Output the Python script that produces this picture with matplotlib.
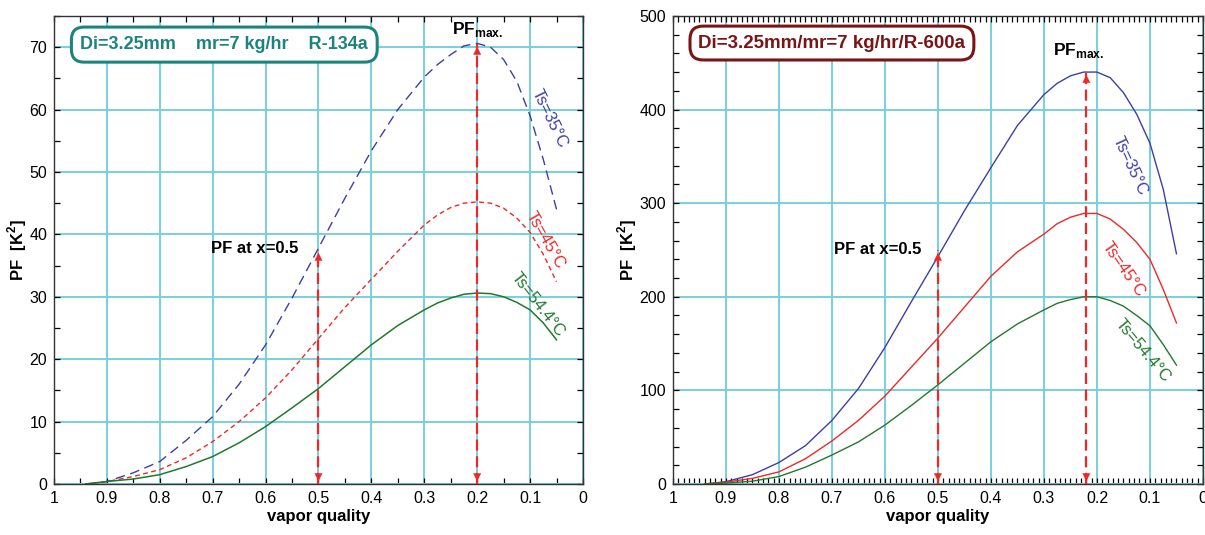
#!/usr/bin/env python3
# -*- coding: UTF-8 -*-
import matplotlib
import matplotlib.pyplot as plt
from matplotlib.ticker import MultipleLocator

matplotlib.use('Agg')
plt.rcParams['font.family'] = ['Liberation Sans', 'DejaVu Sans']
plt.rcParams['mathtext.fontset'] = 'custom'
plt.rcParams['mathtext.rm'] = 'Liberation Sans'
plt.rcParams['mathtext.bf'] = 'Liberation Sans:bold'

# vapor quality points
quality = [0.94, 0.9, 0.85, 0.8, 0.75, 0.7, 0.65, 0.6, 0.55, 0.5, 0.45, 0.4,
           0.35, 0.3, 0.275, 0.25, 0.225, 0.2, 0.175, 0.15, 0.125, 0.1, 0.075, 0.05]

# R-134a  (PF in K^2)
r134a_35 = [0, 0.4, 1.8, 3.6, 7.0, 10.8, 16.0, 22.3, 29.8, 37.8, 45.8, 53.4,
            60.0, 65.2, 67.2, 68.8, 70.2, 70.6, 70.0, 68.0, 64.5, 59.0, 52.0, 44.0]
r134a_45 = [0, 0.4, 1.2, 2.3, 4.2, 6.8, 10.0, 13.8, 18.3, 23.3, 28.3, 32.8,
            37.3, 41.5, 43.1, 44.3, 45.0, 45.2, 45.0, 44.2, 42.6, 40.3, 36.8, 32.4]
r134a_544 = [0, 0.4, 0.8, 1.5, 2.8, 4.4, 6.6, 9.2, 12.2, 15.3, 18.8, 22.3,
             25.4, 27.9, 29.0, 29.8, 30.4, 30.6, 30.5, 30.0, 29.1, 27.9, 25.8, 23.1]

# R-600a
r600a_35 = [0, 2.5, 10, 23, 41, 68, 102, 146, 195, 243, 292, 338,
            383, 416, 428, 436, 440, 440, 434, 418, 395, 364, 315, 246]
r600a_45 = [0, 2, 6, 13, 27, 46, 68, 94, 125, 156, 189, 222,
            248, 267, 278, 285, 289, 289, 283, 272, 258, 240, 208, 172]
r600a_544 = [0, 1, 3, 8, 18, 31, 45, 63, 84, 106, 129, 152,
             171, 186, 193, 197, 200, 200, 196, 190, 180, 169, 149, 127]

# arrows: (x, top)
arrows_134a = [(0.5, 37.5), (0.2, 70.5)]
arrows_600a = [(0.5, 250), (0.22, 440)]

blue = '#3c3fa6'
red = '#ee2828'
green = '#21792b'
gridc = '#78d0dc'


def setup(ax, ymax, ymajor, yminor, xminor):
    ax.set_xlim(1, 0)
    ax.set_ylim(0, ymax)
    ax.xaxis.set_major_locator(MultipleLocator(0.1))
    ax.xaxis.set_minor_locator(MultipleLocator(xminor))
    ax.yaxis.set_major_locator(MultipleLocator(ymajor))
    ax.yaxis.set_minor_locator(MultipleLocator(yminor))
    ax.xaxis.set_ticks([1, 0.9, 0.8, 0.7, 0.6, 0.5, 0.4, 0.3, 0.2, 0.1, 0])
    ax.set_xticklabels(['1', '0.9', '0.8', '0.7', '0.6', '0.5', '0.4',
                        '0.3', '0.2', '0.1', '0'])
    ax.tick_params(which='both', direction='in', top=True, right=True,
                   length=4, width=0.9, labelsize=11.5, pad=5)
    ax.grid(True, which='major', color=gridc, lw=1.4)
    ax.set_axisbelow(True)
    for s in ax.spines.values():
        s.set_color('#333333')
        s.set_linewidth(1.0)
    ax.set_xlabel('vapor quality', fontsize=12, fontweight='bold', labelpad=2)
    ax.set_ylabel('PF  [K$^{\\mathbf{2}}$]', fontsize=12, fontweight='bold',
                  labelpad=0)


def draw_arrows(ax, arrows):
    for x, top in arrows:
        ax.plot([x, x], [0, top], color=red, lw=1.6, dashes=(5, 2.5), zorder=4)
        ax.annotate('', xy=(x, top), xytext=(0, -12), textcoords='offset points',
                    arrowprops=dict(arrowstyle='-|>', color=red, lw=0.1,
                                    mutation_scale=14), zorder=5)
        ax.annotate('', xy=(x, 0), xytext=(0, 12), textcoords='offset points',
                    arrowprops=dict(arrowstyle='-|>', color=red, lw=0.1,
                                    mutation_scale=14), zorder=5)


fig = plt.figure(figsize=(12.05, 5.35), dpi=100)

# left: R-134a
ax1 = fig.add_axes([0.0448, 0.0953, 0.439, 0.875])
setup(ax1, 75, 10, 5, 0.05)
ax1.plot(quality, r134a_35, color=blue, lw=1.0, dashes=(7, 4))
ax1.plot(quality, r134a_45, color=red, lw=1.0, dashes=(3.5, 2.5))
ax1.plot(quality, r134a_544, color=green, lw=1.1)
draw_arrows(ax1, arrows_134a)
ax1.text(0.95, 70.4, 'Di=3.25mm    mr=7 kg/hr    R-134a', color='#1b847e',
         fontsize=13, fontweight='bold', va='center', ha='left',
         bbox=dict(boxstyle='round,pad=0.5,rounding_size=0.7', fc='white',
                   ec='#1b847e', lw=2.2))
ax1.text(0.62, 37.8, 'PF at x=0.5', fontsize=12, fontweight='bold',
         ha='center', va='center')
ax1.text(0.2, 72.8, 'PF$_{\\mathbf{max.}}$', fontsize=12.5, fontweight='bold',
         ha='center', va='center')
ax1.text(0.064, 58.5, 'Ts=35°C', color=blue, fontsize=12, rotation=-64,
         ha='center', va='center')
ax1.text(0.072, 39.0, 'Ts=45°C', color=red, fontsize=12, rotation=-60,
         ha='center', va='center')
ax1.text(0.086, 28.8, 'Ts=54.4°C', color=green, fontsize=12, rotation=-52,
         ha='center', va='center')

# right: R-600a
ax2 = fig.add_axes([0.5585, 0.0953, 0.4398, 0.875])
setup(ax2, 500, 100, 20, 0.01)
ax2.plot(quality, r600a_35, color=blue, lw=1.0)
ax2.plot(quality, r600a_45, color=red, lw=1.0)
ax2.plot(quality, r600a_544, color=green, lw=1.0)
draw_arrows(ax2, arrows_600a)
ax2.text(0.952, 471, 'Di=3.25mm/mr=7 kg/hr/R-600a', color='#7a1515',
         fontsize=13.5, fontweight='bold', va='center', ha='left',
         bbox=dict(boxstyle='round,pad=0.45,rounding_size=0.7', fc='white',
                   ec='#7a1515', lw=2.2))
ax2.text(0.614, 251, 'PF at x=0.5', fontsize=12, fontweight='bold',
         ha='center', va='center')
ax2.text(0.235, 463, 'PF$_{\\mathbf{max.}}$', fontsize=12.5, fontweight='bold',
         ha='center', va='center')
ax2.text(0.138, 340, 'Ts=35°C', color=blue, fontsize=12, rotation=-65,
         ha='center', va='center')
ax2.text(0.150, 229, 'Ts=45°C', color=red, fontsize=12, rotation=-55,
         ha='center', va='center')
ax2.text(0.114, 142, 'Ts=54.4°C', color=green, fontsize=12, rotation=-50,
         ha='center', va='center')

fig.savefig('out.png', dpi=100)
plt.close('all')
